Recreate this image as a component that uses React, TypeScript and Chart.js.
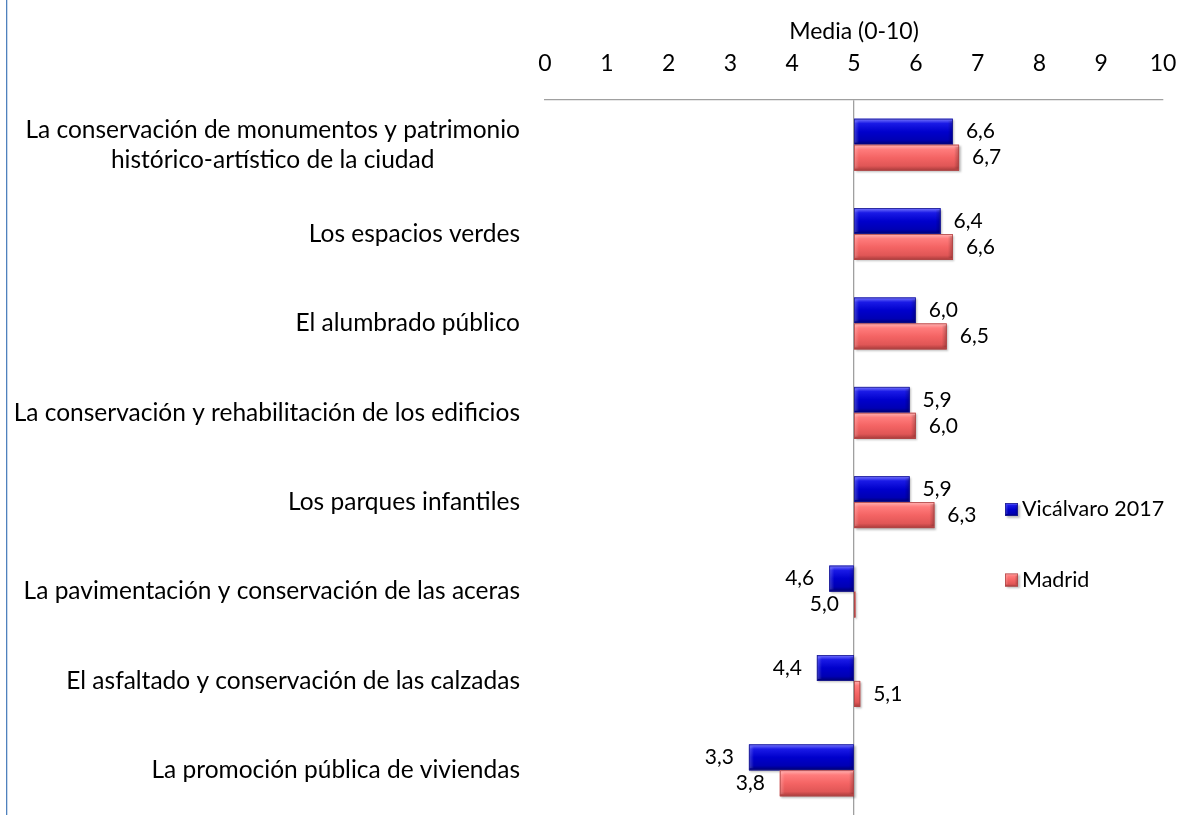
import { useEffect, useRef } from 'react';
import { Chart, registerables } from 'chart.js';

Chart.register(...registerables);

const categories: (string | string[])[] = [
  ['La conservación de monumentos y patrimonio', 'histórico-artístico de la ciudad'],
  'Los espacios verdes',
  'El alumbrado público',
  'La conservación y rehabilitación de los edificios',
  'Los parques infantiles',
  'La pavimentación y conservación de las aceras',
  'El asfaltado y conservación de las calzadas',
  'La promoción pública de viviendas',
];
const vicalvaro = [6.6, 6.4, 6.0, 5.9, 5.9, 4.6, 4.4, 3.3];
const madrid = [6.7, 6.6, 6.5, 6.0, 6.3, 5.0, 5.1, 3.8];
const seriesNames = ['Vicálvaro 2017', 'Madrid'];
const baseline = 5;
const axisMin = 0;
const axisMax = 10;
const axisTitle = 'Media (0-10)';

const FONT = 'Lato';
const seriesColors = ['#0000c8', '#f26262'];
const gradStops = [
  ['#7a7aff', '#1a1ae6', '#0000cc', '#0000b4', '#00006e'],
  ['#ffb4b4', '#ff7c7c', '#f46464', '#e05656', '#a63a3a'],
];
const borderColors = ['#202090', '#b04848'];

const fmt = (v: number) => v.toFixed(1).replace('.', ',');

function bevelRect(ctx: CanvasRenderingContext2D, x: number, y: number, w: number, h: number, si: number) {
  if (w <= 0) w = 1.5;
  const g = ctx.createLinearGradient(0, y, 0, y + h);
  const st = gradStops[si];
  g.addColorStop(0, st[0]);
  g.addColorStop(0.18, st[1]);
  g.addColorStop(0.5, st[2]);
  g.addColorStop(0.82, st[3]);
  g.addColorStop(1, st[4]);
  ctx.save();
  ctx.shadowColor = 'rgba(0,0,0,0.25)';
  ctx.shadowOffsetX = 1.5;
  ctx.shadowOffsetY = 1.5;
  ctx.shadowBlur = 2;
  ctx.fillStyle = g;
  ctx.fillRect(x, y, w, h);
  ctx.restore();
  if (w > 8) {
    const e = Math.min(5, w / 4);
    const gl = ctx.createLinearGradient(x, 0, x + e, 0);
    gl.addColorStop(0, 'rgba(255,255,255,0.25)');
    gl.addColorStop(1, 'rgba(255,255,255,0)');
    ctx.fillStyle = gl;
    ctx.fillRect(x, y + 2, e, h - 4);
    const gr = ctx.createLinearGradient(x + w - e, 0, x + w, 0);
    gr.addColorStop(0, 'rgba(0,0,0,0)');
    gr.addColorStop(1, 'rgba(0,0,0,0.25)');
    ctx.fillStyle = gr;
    ctx.fillRect(x + w - e, y + 2, e, h - 4);
  }
  ctx.strokeStyle = borderColors[si];
  ctx.lineWidth = 0.8;
  ctx.strokeRect(x + 0.4, y + 0.4, w - 0.8, h - 0.8);
}

const customDraw = {
  id: 'customDraw',
  beforeDraw(chart: any) {
    const ctx = chart.ctx;
    ctx.save();
    ctx.fillStyle = '#4f81bd';
    ctx.fillRect(6, 0, 1.3, chart.height);
    ctx.restore();
  },
  afterDatasetsDraw(chart: any) {
    const ctx = chart.ctx as CanvasRenderingContext2D;
    chart.data.datasets.forEach((ds: any, si: number) => {
      const meta = chart.getDatasetMeta(si);
      meta.data.forEach((el: any) => {
        const left = Math.min(el.x, el.base);
        const w = Math.abs(el.x - el.base);
        const top = el.y - el.height / 2;
        bevelRect(ctx, left, top, w, el.height, si);
      });
    });
    ctx.save();
    ctx.font = `21px ${FONT}`;
    ctx.fillStyle = '#000';
    ctx.textBaseline = 'middle';
    chart.data.datasets.forEach((ds: any, si: number) => {
      const meta = chart.getDatasetMeta(si);
      const vals = si === 0 ? vicalvaro : madrid;
      meta.data.forEach((el: any, i: number) => {
        const v = vals[i];
        if (v > baseline) {
          ctx.textAlign = 'left';
          ctx.fillText(fmt(v), Math.max(el.x, el.base) + 13, el.y);
        } else {
          ctx.textAlign = 'right';
          ctx.fillText(fmt(v), Math.min(el.x, el.base) - 15, el.y);
        }
      });
    });
    ctx.restore();
  },
  afterDraw(chart: any) {
    const ctx = chart.ctx as CanvasRenderingContext2D;
    const yScale = chart.scales.y;
    ctx.save();
    ctx.font = `24.5px ${FONT}`;
    ctx.fillStyle = '#000';
    ctx.textBaseline = 'middle';
    ctx.textAlign = 'center';
    const right = chart.chartArea.left - 25;
    const lh = 30;
    categories.forEach((c, i) => {
      const lines = Array.isArray(c) ? c : [c];
      const maxW = Math.max(...lines.map((l) => ctx.measureText(l).width));
      const cx = right - maxW / 2;
      const y0 = yScale.getPixelForValue(i) - ((lines.length - 1) * lh) / 2;
      lines.forEach((l, k) => ctx.fillText(l, cx, y0 + k * lh));
    });
    const lx = chart.chartArea.right - 158;
    const ly = [509.5, 580];
    ctx.font = `21.5px ${FONT}`;
    ctx.textAlign = 'left';
    seriesNames.forEach((n, si) => {
      bevelRect(ctx, lx, ly[si] - 6.5, 13, 13, si);
      ctx.fillStyle = '#000';
      ctx.fillText(n, lx + 17, ly[si]);
    });
    ctx.restore();
  },
};

export default function App() {
  const ref = useRef<HTMLCanvasElement>(null);
  useEffect(() => {
    const chart = new Chart(ref.current!, {
      type: 'bar',
      data: {
        labels: categories.map((c) => (Array.isArray(c) ? c.join(' ') : c)),
        datasets: [
          {
            label: seriesNames[0],
            data: vicalvaro.map((v) => [baseline, v]) as any,
            backgroundColor: seriesColors[0],
            borderWidth: 0,
            categoryPercentage: 0.58,
            barPercentage: 1,
          },
          {
            label: seriesNames[1],
            data: madrid.map((v) => [baseline, v]) as any,
            backgroundColor: seriesColors[1],
            borderWidth: 0,
            categoryPercentage: 0.58,
            barPercentage: 1,
          },
        ],
      },
      options: {
        indexAxis: 'y',
        responsive: false,
        animation: false,
        layout: { padding: { left: 0, right: 28, top: 0, bottom: 0 } },
        plugins: {
          legend: { display: false },
          tooltip: { enabled: false },
        },
        scales: {
          x: {
            position: 'top',
            min: axisMin,
            max: axisMax,
            ticks: {
              stepSize: 1,
              color: '#000',
              font: { family: FONT, size: 23 },
              padding: 23,
            },
            grid: {
              drawTicks: false,
              color: (c: any) => (c.tick && c.tick.value === baseline ? '#a0a0a0' : 'rgba(0,0,0,0)'),
              lineWidth: 1.3,
            },
            border: { display: true, color: '#a0a0a0', width: 1.3 },
            title: {
              display: true,
              text: axisTitle,
              color: '#000',
              font: { family: FONT, size: 23 },
              padding: { top: 18, bottom: 0 },
            },
            afterFit: (s: any) => {
              s.height = 100;
              s.paddingLeft = 0;
              s.paddingRight = 0;
            },
          },
          y: {
            ticks: { display: false },
            grid: { display: false },
            border: { display: false },
            afterFit: (s: any) => {
              s.width = 545;
            },
          },
        },
      },
      plugins: [customDraw],
    } as any);
    return () => chart.destroy();
  }, []);
  return (
    <div style={{ position: 'fixed', left: 0, top: 0, width: 1191, height: 815, background: '#fff' }}>
      <canvas ref={ref} width={1191} height={815} />
    </div>
  );
}
